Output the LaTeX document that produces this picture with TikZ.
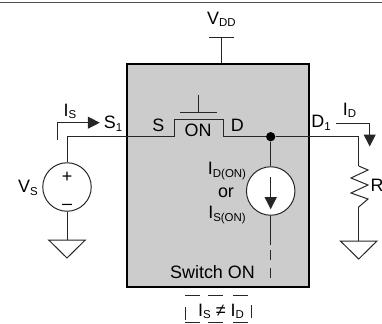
\documentclass[tikz,border=0pt]{standalone}
\usepackage{fontspec}
\setmainfont{Liberation Sans}
\usetikzlibrary{arrows.meta, positioning, calc}
\tikzset{
	wire/.style={line width=1pt, black!85},
	lbl/.style={inner sep=0pt, anchor=base, font=\fontsize{18}{20}\selectfont},
	pointer/.style={wire, -{Triangle[length=12pt,width=12pt]}, shorten >=-0.5pt},
	ground/.style={wire, line join=miter}
}
\newcommand{\subs}[2]{#1\raisebox{-3pt}{\fontsize{11.5}{12}\selectfont #2}}
\begin{document}
\begin{tikzpicture}[x=1bp, y=-1bp]
	\useasboundingbox (0,0) rectangle (382,324);
	% Top rule
	\coordinate (ruleL) at (0,2.7);
	\coordinate (ruleR) at (382,2.7);
	\draw[wire, black!70] (ruleL) -- (ruleR);

	% Device box
	\node[draw=black, fill=black!20, line width=2pt, minimum width=182bp, minimum height=223bp, inner sep=0pt] (device) at (218,175.7) {};

	% Supply
	\coordinate (vddbar) at (221.7,37.7);
	\draw[wire] ($(vddbar)+(-12.3,0)$) -- ($(vddbar)+(12.3,0)$);
	\draw[wire] (vddbar) -- (vddbar |- device.north);
	\node[lbl] (vdd) at (221.5,24) {\subs{V}{DD}};

	% Source side
	\node[draw, wire, circle, minimum size=48.5bp, inner sep=0pt] (vs) at (67,187) {};
	\node[lbl] (plus) at (67,182.5) {+};
	\node[lbl] (minus) at (67,209.5) {–};
	\node[lbl] (vslabel) at (28,192.7) {\subs{V}{S}};
	\coordinate (gndS) at (67,240);
	\draw[wire] (vs.south) -- (gndS);
	\draw[ground] ($(gndS)+(-18.3,0)$) -- ($(gndS)+(18.3,0)$) -- ($(gndS)+(0,18)$) -- cycle;

	% Main line
	\coordinate (swL) at (174.3,136.7);
	\coordinate (swR) at (223,136.7);
	\node[circle, fill=black, minimum size=9.3bp, inner sep=0pt] (junction) at (270.7,136.7) {};
	\coordinate (rtop) at (358.7,136.7);
	\draw[wire] (vs.north) |- (swL) -- (174.3,119.3) -- (223,119.3) -- (swR) -- (junction);
	\draw[wire] (junction) -- (rtop) -- (358.7,166);

	% Switch gate
	\coordinate (gatebar) at (198.7,112);
	\draw[wire] ($(gatebar)+(-18.5,0)$) -- ($(gatebar)+(18.5,0)$);
	\draw[wire] (gatebar) -- ++(0,-17);
	\node[lbl] (sw-on) at (198,136.7) {ON};
	\node[lbl] (sw-s) at (158.3,131.5) {S};
	\node[lbl] (sw-d) at (237.3,131) {D};
	\node[lbl] (s1) at (113,128.3) {\subs{S}{1}};
	\node[lbl] (d1) at (321,127.3) {\subs{D}{1}};

	% Source current
	\coordinate (isA) at (57,140);
	\coordinate (isB) at (99.3,122.7);
	\draw[pointer] (isA) |- (isB);
	\node[lbl] (is) at (70,116) {\subs{I}{S}};

	% Drain current
	\coordinate (idA) at (336,123);
	\coordinate (idB) at (369.7,146);
	\draw[pointer] (idA) -| (idB);
	\node[lbl] (id) at (349.5,115) {\subs{I}{D}};

	% Internal current source
	\node[draw, wire, fill=white, circle, minimum size=48.5bp, inner sep=0pt] (isrc) at (270.7,191) {};
	\draw[wire] (junction) -- (isrc.north);
	\coordinate (arrowtop) at (270.7,177);
	\coordinate (arrowtip) at (270.7,208.7);
	\draw[pointer] (arrowtop) -- (arrowtip);
	\coordinate (isrcEnd) at (270.7,245);
	\coordinate (dashStart) at (270.7,250);
	\coordinate (dashEnd) at (270.7,278);
	\draw[wire] (isrc.south) -- (isrcEnd);
	\draw[wire, dash pattern=on 10pt off 8pt] (dashStart) -- (dashEnd);
	\node[lbl] (idon) at (227,174.7) {\subs{I}{D(ON)}};
	\node[lbl] (or) at (226,197) {or};
	\node[lbl] (ison) at (227,218.7) {\subs{I}{S(ON)}};
	\node[lbl] (switchon) at (212.5,278.7) {Switch ON};

	% Load
	\coordinate (rbot) at (358.7,208);
	\draw[wire] (358.7,166) -- (368,170) -- (351,178) -- (368,185) -- (351,193) -- (368,199) -- (358.7,207) -- (rbot);
	\node[lbl] (rlabel) at (377,191.7) {R};
	\coordinate (gndD) at (358.7,241);
	\draw[wire] (rbot) -- (gndD);
	\draw[ground] ($(gndD)+(-18.3,0)$) -- ($(gndD)+(18.3,0)$) -- ($(gndD)+(0,18)$) -- cycle;

	% Bottom note
	\node[lbl] (note) at (221,316) {\subs{I}{S} ≠ \subs{I}{D}};
	\draw[wire, dash pattern=on 15pt off 8pt on 15pt off 10pt on 15pt] (185,295) -- (248,295);
	\draw[wire, dash pattern=on 15pt off 8pt on 15pt off 10pt on 15pt] (185,322.7) -- (248,322.7);
	\draw[wire] (185,307) -- (185,320);
	\draw[wire] (251,305) -- (251,318);
\end{tikzpicture}
\end{document}
